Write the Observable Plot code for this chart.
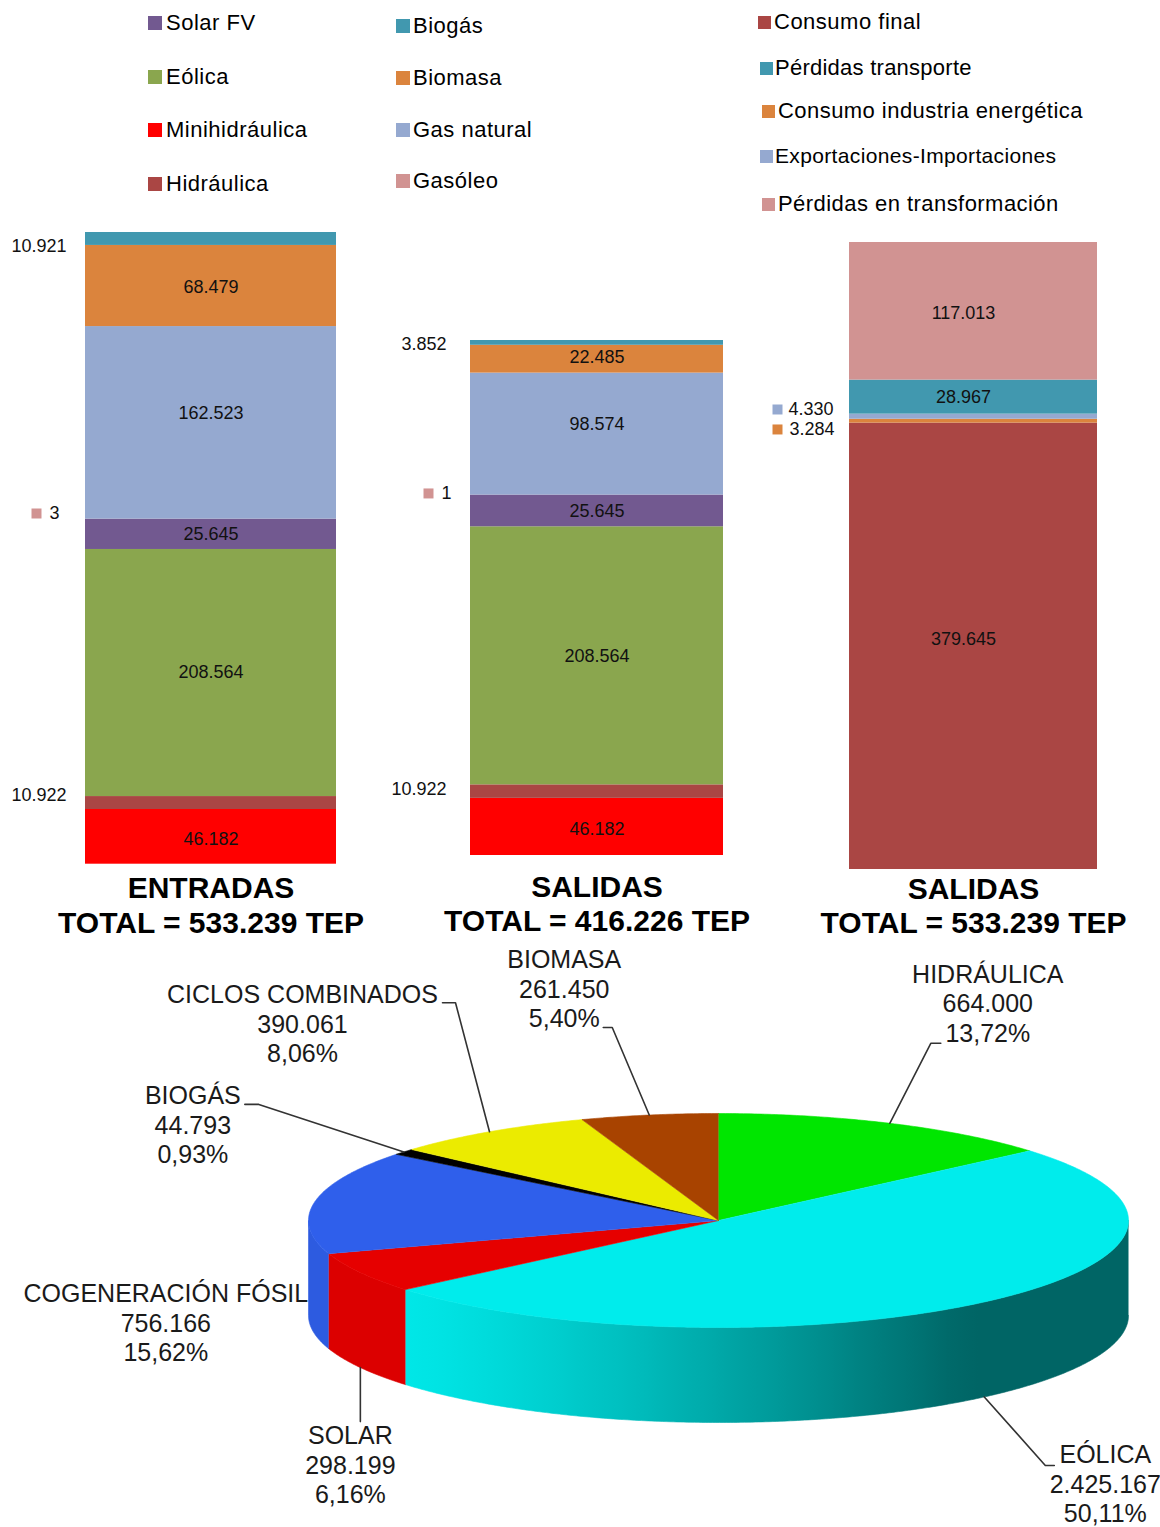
<!DOCTYPE html>
<html>
<head>
<meta charset="utf-8">
<script src="https://cdn.jsdelivr.net/npm/d3@7"></script>
<script src="https://cdn.jsdelivr.net/npm/@observablehq/plot@0.6"></script>
<style>
  body { margin: 0; background: #fff; font-family: Arial, "Liberation Sans", sans-serif; }
  #root { position: relative; width: 1160px; height: 1527px; overflow: hidden; background: #fff; }
  #root svg { position: absolute; left: 0; top: 0; }
  .leg { position: absolute; display: flex; align-items: center; height: 24px; font-size: 22px;
         letter-spacing: 0.5px; color: #000; white-space: nowrap; }
  .leg i { display: inline-block; flex: none; }
</style>
</head>
<body>
<div id="root"></div>
<script>
// ---------------- DATA ----------------
const sourceCats = ["Minihidráulica", "Hidráulica", "Eólica", "Solar FV", "Gasóleo", "Gas natural", "Biomasa", "Biogás"];
const entradasValues = [46182, 10922, 208564, 25645, 3, 162523, 68479, 10921];
const salidasValues  = [46182, 10922, 208564, 25645, 1, 98574, 22485, 3852];
const useCats = ["Consumo final", "Consumo industria energética", "Exportaciones-Importaciones", "Pérdidas transporte", "Pérdidas en transformación"];
const usoValues = [379645, 3284, 4330, 28967, 117013];
const barTitles = ["ENTRADAS", "SALIDAS", "SALIDAS"];
const barTotals = [533239, 416226, 533239];

const legendSources = ["Solar FV", "Eólica", "Minihidráulica", "Hidráulica", "Biogás", "Biomasa", "Gas natural", "Gasóleo"];
const legendUses = ["Consumo final", "Pérdidas transporte", "Consumo industria energética", "Exportaciones-Importaciones", "Pérdidas en transformación"];

const pieCats = ["HIDRÁULICA", "EÓLICA", "SOLAR", "COGENERACIÓN FÓSIL", "BIOGÁS", "CICLOS COMBINADOS", "BIOMASA"];
const pieValues = [664000, 2425167, 298199, 756166, 44793, 390061, 261450];

// ---------------- STYLE / LAYOUT ----------------
const FONT = "Arial, 'Liberation Sans', sans-serif";
const catColor = {
  "Solar FV": "#725990", "Eólica": "#8AA64E", "Minihidráulica": "#FF0000", "Hidráulica": "#AA4644",
  "Biogás": "#4198AF", "Biomasa": "#DB843D", "Gas natural": "#95A9D0", "Gasóleo": "#D19392",
  "Consumo final": "#AA4644", "Pérdidas transporte": "#4198AF", "Consumo industria energética": "#DB843D",
  "Exportaciones-Importaciones": "#95A9D0", "Pérdidas en transformación": "#D19392"
};
const pieColors = ["#00E600", "#00ECEC", "#E60000", "#2F5FEB", "#000000", "#EBEB00", "#A84300"];

// legend placement: [squareX, centerY, squareSize, gap, fontSize, letterSpacing]
const legendLayout = {
  "Solar FV": [148, 23, 14, 4, 22, 0.5], "Eólica": [148, 77, 14, 4, 22, 0.5],
  "Minihidráulica": [148, 130, 14, 4, 22, 0.5], "Hidráulica": [148, 184, 14, 4, 22, 0.5],
  "Biogás": [396, 26, 14, 3, 22, 0.5], "Biomasa": [396, 78, 14, 3, 22, 0.5],
  "Gas natural": [396, 130, 14, 3, 22, 0.5], "Gasóleo": [396, 181, 14, 3, 22, 0.5],
  "Consumo final": [758, 22, 13, 3, 22, 0.5], "Pérdidas transporte": [760, 68, 13, 2, 22, 0.25],
  "Consumo industria energética": [762, 111, 13, 3, 22, 0.45],
  "Exportaciones-Importaciones": [760, 156, 13, 2, 21, 0.35], "Pérdidas en transformación": [762, 204, 13, 3, 22, 0.45]
};

// bar frames (pixels) and label offsets
const barLayout = [
  { x0: 85, x1: 336, bottom: 863.7, top: 232, labelDx: 0, titleDy: [24, 59],
    inside: [["Minihidráulica", 2], ["Eólica", -1], ["Solar FV", 0], ["Gas natural", -10], ["Biomasa", 1]],
    outsideEnd: [["Biogás", 7.5, 66], ["Hidráulica", -7.5, 66]],
    outsideSq: [["Gasóleo", -5.6, 36, 49]] },
  { x0: 470, x1: 723, bottom: 855, top: 340, labelDx: 0, titleDy: [32, 66],
    inside: [["Minihidráulica", 2.5], ["Eólica", 0], ["Solar FV", 0], ["Gas natural", -10], ["Biomasa", -2]],
    outsideEnd: [["Biogás", 1.6, 446], ["Hidráulica", -2, 446]],
    outsideSq: [["Gasóleo", -1.6, 428, 441]] },
  { x0: 849, x1: 1097, bottom: 869, top: 242, labelDx: -10, titleDy: [20, 54],
    inside: [["Consumo final", -7], ["Pérdidas transporte", 0], ["Pérdidas en transformación", 2]],
    outsideEnd: [],
    outsideSq: [["Exportaciones-Importaciones", -7.2, 777, 788], ["Consumo industria energética", 8.3, 777, 789]] }
];

// pie frame
const PIE = { cx: 718, cy: 1220, rx: 410, ry: 107, depth: 95 };
// label offsets (pixels) from each slice's anchor point: text centre (middle line), leader path points
const pieLabelLayout = {
  "HIDRÁULICA": { t: [98, -120.5], path: [[41, -80], [51, -80]] },
  "EÓLICA": { t: [121, 86.5], path: [[61, 68.5], [70, 68.5]] },
  "SOLAR": { t: [-10, 96.5], path: [[0, 54]] },
  "COGENERACIÓN FÓSIL": { t: [-149, 120.5], path: [] },
  "BIOGÁS": { t: [-211, -27.5], path: [[-145, -47.5], [-159, -47.5]] },
  "CICLOS COMBINADOS": { t: [-187, -108.5], path: [[-34, -129], [-47, -129]] },
  "BIOMASA": { t: [-85, -126.5], path: [[-37, -87.5], [-46, -87.5]] }
};

// ---------------- HELPERS ----------------
const loc = d3.formatLocale({ decimal: ",", thousands: ".", grouping: [3], currency: ["", "€"] });
const fmtInt = loc.format(",d");
const fmtPct = v => loc.format(".2f")(v) + "%";
const root = document.getElementById("root");
const svgStyle = { background: "transparent", fontFamily: FONT, overflow: "visible" };

// ---------------- LEGENDS ----------------
for (const cat of [...legendSources, ...legendUses]) {
  const [sx, cy, s, gap, fs, ls] = legendLayout[cat];
  const div = document.createElement("div");
  div.className = "leg";
  div.style.left = sx + "px";
  div.style.top = (cy - 12) + "px";
  div.style.fontSize = fs + "px";
  div.style.letterSpacing = ls + "px";
  const sq = document.createElement("i");
  sq.style.width = s + "px"; sq.style.height = s + "px";
  sq.style.background = catColor[cat]; sq.style.marginRight = gap + "px";
  div.appendChild(sq);
  div.appendChild(document.createTextNode(cat));
  root.appendChild(div);
}

// ---------------- STACKED BARS ----------------
const barSets = [
  { cats: sourceCats, values: entradasValues },
  { cats: sourceCats, values: salidasValues },
  { cats: useCats, values: usoValues }
];

barSets.forEach((set, bi) => {
  const L = barLayout[bi];
  const name = "bar" + bi;
  const data = set.cats.map((c, i) => ({ bar: name, cat: c, value: set.values[i] }));
  const sum = d3.sum(set.values);
  const mid = (L.x0 + L.x1) / 2;
  const marks = [
    Plot.barY(data, Plot.stackY({ x: "bar", y: "value", fill: d => catColor[d.cat] }))
  ];
  for (const [cat, dy] of L.inside) {
    marks.push(Plot.text(data, Plot.stackY({
      x: "bar", y: "value", text: d => d.cat === cat ? fmtInt(d.value) : "",
      dy, dx: L.labelDx, fontSize: 18, fill: "#111"
    })));
  }
  for (const [cat, dy, right] of L.outsideEnd) {
    marks.push(Plot.text(data, Plot.stackY({
      x: "bar", y: "value", text: d => d.cat === cat ? fmtInt(d.value) : "",
      dy, dx: right - mid, textAnchor: "end", fontSize: 18, fill: "#111"
    })));
  }
  for (const [cat, dy, sqx, tx] of L.outsideSq) {
    marks.push(Plot.dot(data, Plot.stackY({
      x: "bar", y: "value", fill: d => d.cat === cat ? catColor[d.cat] : "none",
      symbol: "square", r: 5.64, dy, dx: sqx - mid
    })));
    marks.push(Plot.text(data, Plot.stackY({
      x: "bar", y: "value", text: d => d.cat === cat ? fmtInt(d.value) : "",
      dy, dx: tx - mid, textAnchor: "start", fontSize: 18, fill: "#111"
    })));
  }
  marks.push(Plot.text([name], { x: d => d, y: () => 0, text: () => barTitles[bi], dy: L.titleDy[0],
    fontSize: 30, fontWeight: "bold", fill: "#000" }));
  marks.push(Plot.text([name], { x: d => d, y: () => 0, text: () => "TOTAL = " + fmtInt(barTotals[bi]) + " TEP",
    dy: L.titleDy[1], fontSize: 30, fontWeight: "bold", fill: "#000" }));

  const svg = Plot.plot({
    width: 1160, height: 950,
    x: { type: "band", domain: [name], range: [L.x0, L.x1], padding: 0, axis: null },
    y: { domain: [0, sum], range: [L.bottom, L.top], axis: null },
    color: { type: "identity" },
    style: svgStyle,
    marks
  });
  root.appendChild(svg);
});

// ---------------- 3D PIE ----------------
const pieTotal = d3.sum(pieValues);
const arcs = d3.pie().sort(null)(pieValues);
const depthU = PIE.depth / PIE.ry;
const DEG = Math.PI / 180;

// rim brightness by horizontal pixel position (light from the left)
function brightness(px) {
  if (px < 403) return 0.955;
  return Math.max(0.43, 0.98 - 0.55 * Math.pow(Math.min(1, (px - 403) / 560), 1.25));
}
function shadeColor(color, b) {
  const c = d3.rgb(color);
  return d3.rgb(c.r * b, c.g * b, c.b * b).formatHex();
}

// visible rim of each slice as one polygon, filled with a horizontal gradient
const rims = [];
arcs.forEach((a, i) => {
  const s = Math.max(a.startAngle, Math.PI / 2), e = Math.min(a.endAngle, 3 * Math.PI / 2);
  if (e <= s) return;
  const n = Math.max(2, Math.ceil((e - s) / (0.5 * DEG)));
  const pts = [];
  for (let k = 0; k <= n; k++) {
    const t = s + (e - s) * k / n;
    pts.push({ x: Math.sin(t), y: Math.cos(t) });
  }
  for (let k = n; k >= 0; k--) {
    const t = s + (e - s) * k / n;
    pts.push({ x: Math.sin(t), y: Math.cos(t) - depthU });
  }
  const pxs = pts.map(p => PIE.cx + PIE.rx * p.x);
  rims.push({ i, pts, x1: d3.min(pxs), x2: d3.max(pxs) });
});

const topPts = [];
arcs.forEach((a, i) => {
  const id = "t" + i;
  topPts.push({ id, x: 0, y: 0, c: pieColors[i] });
  const n = Math.max(2, Math.ceil((a.endAngle - a.startAngle) / (0.5 * DEG)));
  for (let k = 0; k <= n; k++) {
    const t = a.startAngle + (a.endAngle - a.startAngle) * k / n;
    topPts.push({ id, x: Math.sin(t), y: Math.cos(t), c: pieColors[i] });
  }
});

// anchors and labels
const leaderPts = [];
const pieLabels = [];
arcs.forEach((a, i) => {
  const m = (a.startAngle + a.endAngle) / 2;
  const ax = Math.sin(m), ay = Math.cos(m) < 0 ? Math.cos(m) - depthU : Math.cos(m);
  const Lb = pieLabelLayout[pieCats[i]];
  const toU = ([dx, dy]) => ({ x: ax + dx / PIE.rx, y: ay - dy / PIE.ry });
  if (Lb.path.length) {
    leaderPts.push({ id: i, x: ax, y: ay });
    for (const p of Lb.path) leaderPts.push({ id: i, ...toU(p) });
  }
  const tp = toU(Lb.t);
  pieLabels.push({ x: tp.x, y: tp.y,
    text: pieCats[i] + "\n" + fmtInt(pieValues[i]) + "\n" + fmtPct(pieValues[i] / pieTotal * 100) });
});

const pieSvg = Plot.plot({
  width: 1160, height: 1527,
  x: { domain: [-1, 1], range: [PIE.cx - PIE.rx, PIE.cx + PIE.rx], axis: null },
  y: { domain: [-1, 1], range: [PIE.cy + PIE.ry, PIE.cy - PIE.ry], axis: null },
  color: { type: "identity" },
  style: svgStyle,
  marks: [
    ...rims.map(r => Plot.line(r.pts, { x: "x", y: "y", fill: `url(#rim${r.i})`, stroke: `url(#rim${r.i})`, strokeWidth: 0.6 })),
    Plot.line(topPts, { x: "x", y: "y", z: "id", fill: "c", stroke: "c", strokeWidth: 0.6 }),
    Plot.line(leaderPts, { x: "x", y: "y", z: "id", stroke: "#333", strokeWidth: 1.6 }),
    Plot.text(pieLabels, { x: "x", y: "y", text: "text", fontSize: 25, lineHeight: 1.18,
      fill: "#1a1a1a", textAnchor: "middle" })
  ]
});
// gradient definitions for the rims (style only)
const defs = d3.select(pieSvg).insert("defs", ":first-child");
for (const r of rims) {
  const g = defs.append("linearGradient").attr("id", `rim${r.i}`)
    .attr("gradientUnits", "userSpaceOnUse")
    .attr("x1", r.x1).attr("x2", r.x2).attr("y1", 0).attr("y2", 0);
  const steps = 24;
  for (let k = 0; k <= steps; k++) {
    const px = r.x1 + (r.x2 - r.x1) * k / steps;
    g.append("stop").attr("offset", k / steps).attr("stop-color", shadeColor(pieColors[r.i], brightness(px)));
  }
}
root.appendChild(pieSvg);
</script>
</body>
</html>
